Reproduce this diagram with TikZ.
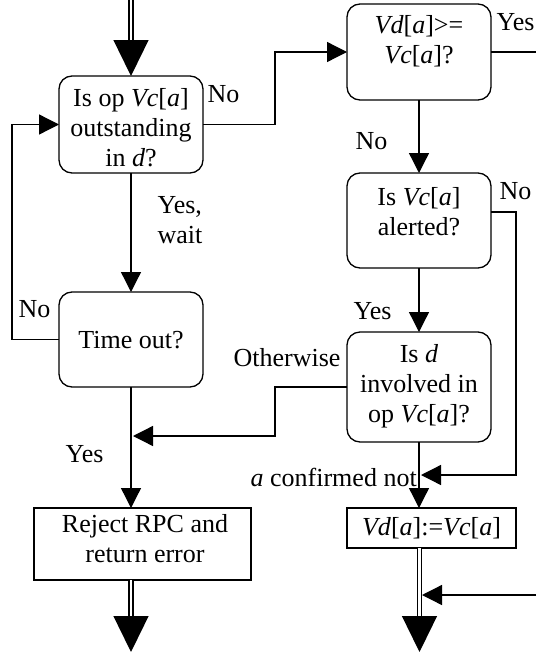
\documentclass[tikz,border=0pt]{standalone}
\usepackage{fontspec}
\setmainfont{Liberation Serif}
\usetikzlibrary{arrows.meta,calc}

\begin{document}
\begin{tikzpicture}[x=1pt,y=-1pt,line width=1.3pt,
  font=\fontsize{26}{30}\selectfont,
  decision/.style={draw,rounded corners=13pt,inner sep=0pt,outer sep=0pt,align=center},
  action/.style={draw,inner sep=0pt,outer sep=0pt,align=center},
  txt/.style={inner sep=0pt,align=center},
  lbl/.style={inner sep=0pt},
  arr/.style={-{Triangle[length=20pt,width=20pt]}},
  flow/.style={double,double distance=2.6pt,shorten >=30pt},
  bigtip/.style={-{Triangle[length=36pt,width=35pt]}}
]
\useasboundingbox (0,0) rectangle (536,656);

% decision boxes
\node[decision,minimum width=144pt,minimum height=97pt] (q1) at (131,124.5) {};
\node[txt] (q1t) at (131,128) {Is op \textit{Vc}[\textit{a}]\\outstanding\\in \textit{d}?};
\node[decision,minimum width=144pt,minimum height=96pt] (q2) at (419,52) {};
\node[txt] (q2t) at (419,41) {\textit{Vd}[\textit{a}]>=\\\textit{Vc}[\textit{a}]?};
\node[decision,minimum width=144pt,minimum height=95pt] (q3) at (419,220.5) {};
\node[txt] (q3t) at (419,212) {Is \textit{Vc}[\textit{a}]\\alerted?};
\node[decision,minimum width=144pt,minimum height=110pt] (q4) at (419,387) {};
\node[txt] (q4t) at (419,386) {Is \textit{d}\\involved in\\op \textit{Vc}[\textit{a}]?};
\node[decision,minimum width=144pt,minimum height=95pt] (tq) at (131,339.5) {};
\node[txt] (tqt) at (131,340) {Time out?};

% action boxes
\node[action,minimum width=217pt,minimum height=72pt] (r1) at (142.5,544) {};
\node[txt] (r1t) at (145,539) {Reject RPC and\\return error};
\node[action,minimum width=169pt,minimum height=40pt] (r2) at (431.5,528) {};
\node[txt] (r2t) at (431.5,528) {\textit{Vd}[\textit{a}]:=\textit{Vc}[\textit{a}]};

% free ends and junctions
\coordinate (in0) at (131,0);
\coordinate (out1) at (131,652);
\coordinate (out2) at (419.5,652);
\coordinate (yesout) at (536,52);
\coordinate (ret) at (536,595);
\coordinate (m1) at (421,475);
\coordinate (m2) at (133,436);
\coordinate (m3) at (422,595);

% entry
\draw[flow] (in0) -- (q1.north);
\draw[bigtip] ($(q1.north)+(0,-36)$) -- (q1.north);

% connectors
\draw[arr] (q1.east) -- ++(72,0) |- (q2.west);
\draw (q2.east) -- (yesout);
\draw[arr] (q2.south) -- (q3.north);
\draw[arr] ([yshift=8.5pt]q3.east) -- ++(25,0) |- (m1);
\draw[arr] (q3.south) -- (q4.north);
\draw[arr] (q4.west) -- ++(-72,0) |- (m2);
\draw[arr] (q4.south) -- (q4.south |- r2.north);
\draw[arr] (q1.south) -- (tq.north);
\draw[arr] (tq.west) -- ++(-47,0) |- (q1.west);
\draw[arr] (tq.south) -- (tq.south |- r1.north);
\draw[arr] (ret) -- (m3);

% exits
\draw[flow] (tq.south |- r1.south) -- (out1);
\draw[bigtip] ($(out1)+(0,-36)$) -- (out1);
\draw[flow] (out2 |- r2.south) -- (out2);
\draw[bigtip] ($(out2)+(0,-36)$) -- (out2);

% branch labels
\node[lbl,anchor=base west] (l1) at (207,102) {No};
\node[lbl,anchor=base west] (l2) at (496,30) {Yes};
\node[lbl,anchor=base west] (l3) at (355,149) {No};
\node[lbl,anchor=base west] (l4) at (499,199) {No};
\node[lbl,anchor=base west] (l5) at (353,319) {Yes};
\node[lbl,anchor=base west] (l6) at (233,366) {Otherwise};
\node[lbl,anchor=base west] (l7) at (250,486) {\textit{a} confirmed not};
\node[lbl,anchor=north west,align=left] (l8) at (157,196) {Yes,\\wait};
\node[lbl,anchor=base west] (l9) at (18,317) {No};
\node[lbl,anchor=base west] (l10) at (65,462) {Yes};
\end{tikzpicture}
\end{document}
